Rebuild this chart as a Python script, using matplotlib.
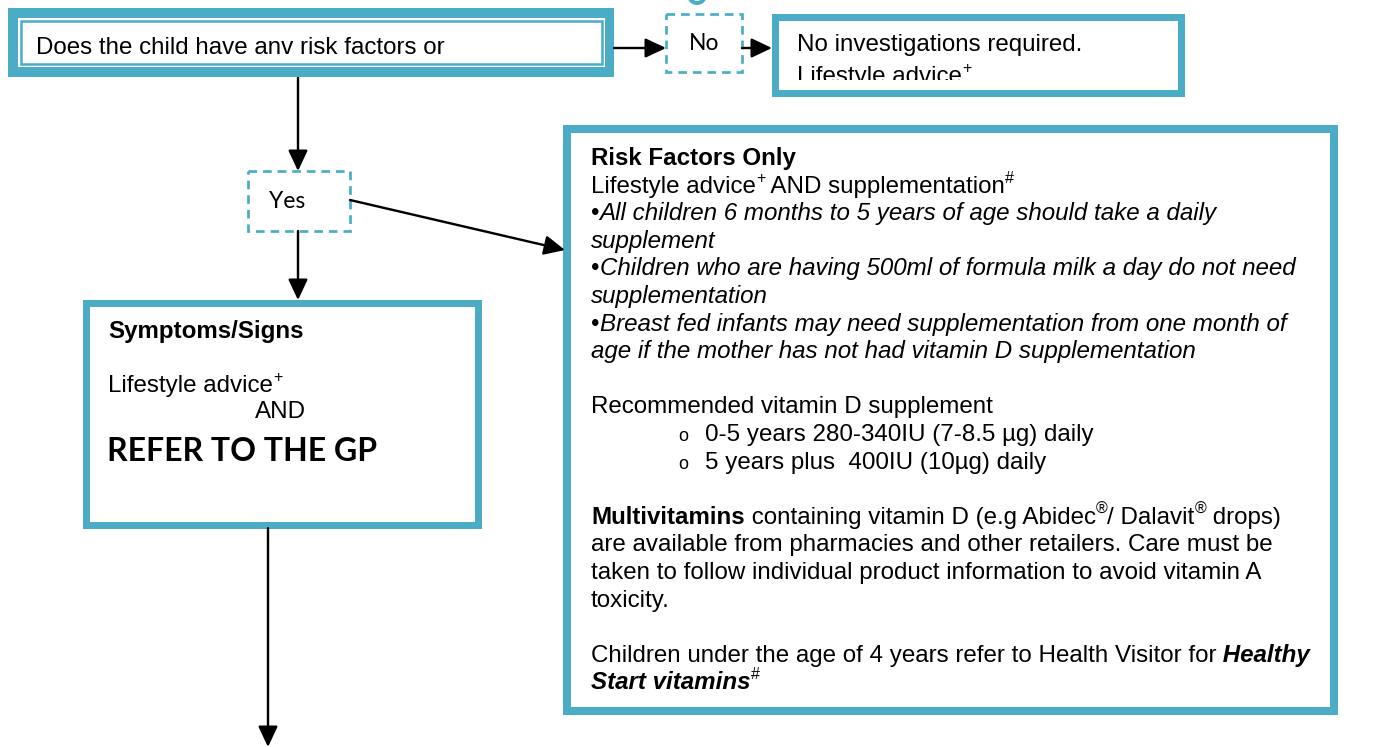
import matplotlib
matplotlib.use("Agg")
import matplotlib.pyplot as plt
from matplotlib.patches import Rectangle, Arc

# ---------------- content ----------------
question_text = "Does the child have anv risk factors or"
no_label = "No"
yes_label = "Yes"
no_result_lines = ["No investigations required.", "Lifestyle advice"]
symptoms_title = "Symptoms/Signs"
symptoms_advice = "Lifestyle advice"
symptoms_and = "AND"
symptoms_refer = "REFER TO THE GP"

# risk-factor box: list of (line index, [(text, style), ...]); style: r, b, i, bi, sup
risk_lines = [
    (0, [("Risk Factors Only", "b")]),
    (1, [("Lifestyle advice", "r"), ("+", "sup"), (" AND supplementation", "r"), ("#", "sup")]),
    (2, [("\u2022", "r"), ("All children 6 months to 5 years of age should take a daily", "i")]),
    (3, [("supplement", "i")]),
    (4, [("\u2022", "r"), ("Children who are having 500ml of formula milk a day do not need", "i")]),
    (5, [("supplementation", "i")]),
    (6, [("\u2022", "r"), ("Breast fed infants may need supplementation from one month of", "i")]),
    (7, [("age if the mother has not had vitamin D supplementation", "i")]),
    (9, [("Recommended vitamin D supplement", "r")]),
    (13, [("Multivitamins", "b"), (" containing vitamin D (e.g Abidec", "r"), ("\u00ae", "sup"),
          ("/ Dalavit", "r"), ("\u00ae", "sup"), (" drops)", "r")]),
    (14, [("are available from pharmacies and other retailers. Care must be", "r")]),
    (15, [("taken to follow individual product information to avoid vitamin A", "r")]),
    (16, [("toxicity.", "r")]),
    (18, [("Children under the age of 4 years refer to Health Visitor for", "r"), (" Healthy", "bi")]),
    (19, [("Start vitamins", "bi"), ("#", "sup")]),
]
dose_lines = [(10, "0-5 years 280-340IU (7-8.5 \u00b5g) daily"),
              (11, "5 years plus  400IU (10\u00b5g) daily")]

# ---------------- styling ----------------
TEAL = "#4BACC6"
ARIAL = "Liberation Sans"
CALIBRI = "Lato"
FS = 17.4
SUP_FS = 11.5


def pt(px):
    return px * 72.0 / 100.0


fig = plt.figure(figsize=(13.83, 7.47), dpi=100)
ax = fig.add_axes([0, 0, 1, 1])
ax.set_xlim(0, 1383)
ax.set_ylim(747, 0)
ax.axis("off")

# ---------------- boxes ----------------
# top question box (thick band + thin inner line)
ax.add_patch(Rectangle((8, 8), 606, 69, fc=TEAL, ec="none"))
ax.add_patch(Rectangle((18, 18), 587, 49, fc="white", ec="none"))
ax.add_patch(Rectangle((21, 21), 581, 43, fc="white", ec=TEAL, lw=pt(2.5)))

# dashed No / Yes boxes
ax.add_patch(Rectangle((666, 14), 76, 58, fc="white", ec=TEAL, lw=pt(2.7),
                       linestyle=(0, (3.2, 2.2))))
ax.add_patch(Rectangle((248, 171), 102, 60, fc="white", ec=TEAL, lw=pt(2.7),
                       linestyle=(0, (3.2, 2.2))))

# No result box
res_box = Rectangle((774.5, 16.5), 406, 76, fc="white", ec=TEAL, lw=pt(7))
ax.add_patch(res_box)
res_clip = Rectangle((778, 20), 399, 60, fc="none", ec="none")
ax.add_patch(res_clip)

# symptoms box
ax.add_patch(Rectangle((85.5, 302.5), 392, 222, fc="white", ec=TEAL, lw=pt(7)))
# risk factor box
ax.add_patch(Rectangle((567, 129), 767, 582, fc="white", ec=TEAL, lw=pt(8)))

# small cut-off teal mark at top
ax.add_patch(Arc((697, -5), 16, 16, theta1=20, theta2=160, color=TEAL, lw=pt(4)))

# ---------------- arrows ----------------
arrows = [((614, 48), (666, 48)),
          ((742, 48), (772, 48)),
          ((298, 78), (298, 171)),
          ((298, 231), (298, 300)),
          ((350, 200), (565, 250)),
          ((268, 528), (268, 747))]
for (x0, y0), (x1, y1) in arrows:
    ax.annotate("", xy=(x1, y1), xytext=(x0, y0), xycoords="data",
                arrowprops=dict(arrowstyle="-|>,head_length=0.7,head_width=0.33",
                                mutation_scale=18, lw=pt(2.4), color="black",
                                shrinkA=0, shrinkB=0))

# ---------------- text helpers ----------------
STYLE = {"r": ("normal", "normal"), "b": ("bold", "normal"), "i": ("normal", "italic"),
         "bi": ("bold", "italic"), "sup": ("normal", "normal")}


def rich_line(x, base, segs, family=ARIAL, size=FS):
    prev = None
    arts = []
    for s, st in segs:
        w, sty = STYLE[st]
        fs = SUP_FS if st == "sup" else size
        y = base - 10 if st == "sup" else base
        if prev is None:
            prev = ax.text(x, y, s, fontsize=fs, fontweight=w, fontstyle=sty,
                           family=family, va="baseline", ha="left")
        else:
            prev = ax.annotate(s, xy=(1, y), xycoords=(prev, "data"), fontsize=fs,
                               fontweight=w, fontstyle=sty, family=family,
                               va="baseline", ha="left")
        arts.append(prev)
    return arts


# question
ax.text(36, 54, question_text, fontsize=FS, family=ARIAL, va="baseline")
# No / Yes
ax.text(704, 43, no_label, fontsize=16.5, family=CALIBRI, ha="center", va="center")
ax.text(287, 201, yes_label, fontsize=16.5, family=CALIBRI, ha="center", va="center")

# No result
ax.text(797, 51, no_result_lines[0], fontsize=FS, family=ARIAL, va="baseline")
for t in rich_line(797, 83, [(no_result_lines[1], "r"), ("+", "sup")]):
    t.set_clip_on(True)
    t.set_clip_path(res_clip)

# symptoms
ax.text(108, 338, symptoms_title, fontsize=FS, fontweight="bold", family=ARIAL, va="baseline")
rich_line(108, 392, [(symptoms_advice, "r"), ("+", "sup")])
ax.text(255, 418, symptoms_and, fontsize=FS, family=ARIAL, va="baseline")
ax.text(107, 461, symptoms_refer, fontsize=23, fontweight="bold", family=CALIBRI, va="baseline")

# risk factors
X0 = 591
BASE0 = 165
STEP = 27.6
for idx, segs in risk_lines:
    rich_line(X0, BASE0 + STEP * idx, segs)
for idx, s in dose_lines:
    ax.text(678, BASE0 + STEP * idx, "o", fontsize=13, family=ARIAL, va="baseline")
    ax.text(705, BASE0 + STEP * idx, s, fontsize=FS, family=ARIAL, va="baseline")

fig.savefig("out.png", dpi=100)
